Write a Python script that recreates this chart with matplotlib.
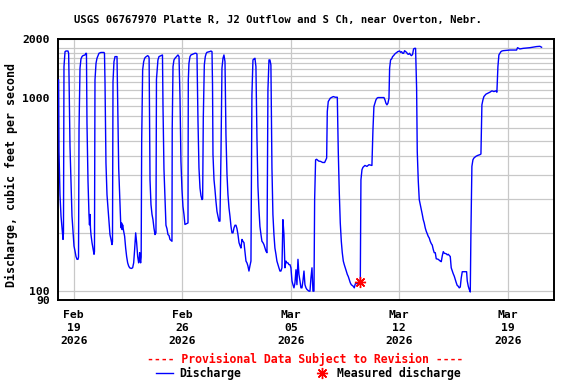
import datetime as dt

import matplotlib
matplotlib.use("Agg")
import matplotlib.pyplot as plt
from matplotlib.lines import Line2D
from matplotlib.ticker import FixedLocator, NullFormatter

TITLE = "USGS 06767970 Platte R, J2 Outflow and S Ch, near Overton, Nebr."
YLABEL = "Discharge, cubic feet per second"
START = dt.datetime(2026, 2, 18)

# hours after START and discharge (cfs)
HOURS = [
    0.5, 1.1, 2.6, 4.2, 5.7, 7.3, 8.0, 8.8, 10.4, 11.9, 15.0, 16.0, 16.6, 18.1, 19.7,
    21.2, 22.8, 24.3, 25.9, 27.4, 29.0, 30.5, 31.3, 32.1, 33.6, 35.1, 36.7, 38.2, 41.3,
    42.9, 43.6, 44.4, 46.0, 47.5, 48.3, 49.1, 49.8, 50.6, 52.2, 53.7, 55.3, 56.0, 56.8,
    58.4, 59.9, 61.5, 63.0, 66.0, 70.8, 71.5, 72.3, 73.8, 75.4, 76.9, 78.5, 80.0, 81.6,
    83.1, 83.9, 84.7, 86.2, 87.8, 90.9, 91.9, 93.5, 95.0, 96.6, 97.4, 98.1, 98.8, 99.6,
    101.2, 102.7, 104.3, 105.8, 107.4, 108.9, 110.5, 113.0, 115.1, 116.7, 118.2, 119.8,
    121.3, 122.9, 124.4, 125.2, 126.0, 126.8, 127.5, 128.3, 129.1, 130.6, 132.2, 133.7,
    135.3, 138.4, 139.9, 140.6, 141.4, 142.0, 143.5, 145.1, 146.6, 148.1, 149.7, 151.2,
    152.0, 154.3, 155.9, 161.3, 162.1, 163.6, 165.2, 166.7, 168.3, 169.8, 171.4, 172.9,
    174.5, 176.0, 176.4, 177.6, 179.1, 180.7, 185.3, 186.9, 188.4, 189.9, 191.5, 193.0,
    194.6, 196.1, 200.8, 201.3, 202.3, 203.9, 205.4, 211.6, 213.2, 214.7, 216.3, 217.8,
    219.4, 220.9, 222.5, 223.5, 224.5, 226.1, 227.6, 229.0, 230.2, 234.9, 236.4, 238.0,
    238.8, 239.5, 241.1, 242.6, 244.1, 245.7, 247.2, 248.8, 250.3, 251.9, 253.4, 255.0,
    256.5, 258.1, 259.6, 261.2, 262.7, 264.3, 265.8, 267.4, 268.9, 270.5, 272.0, 273.6,
    275.1, 276.7, 278.2, 279.8, 281.3, 282.8, 284.4, 285.9, 287.5, 289.0, 290.6, 292.1,
    293.6, 295.2, 296.7, 298.3, 299.8, 301.4, 302.9, 304.5, 306.0, 307.6, 309.1, 310.7,
    312.2, 313.8, 315.3, 316.9, 318.4, 320.0, 321.5, 323.1, 324.6, 326.2, 327.7, 329.2,
    330.8, 332.3, 333.9, 335.4, 337.0, 338.5, 340.1, 341.6, 343.2, 344.7, 346.3, 347.8,
    349.4, 350.9, 352.5, 354.0, 355.6, 357.1, 358.7, 360.2, 361.8, 363.3, 364.9, 366.4,
    368.0, 369.5, 371.1, 372.6, 374.2, 375.7, 377.3, 378.8, 380.4, 381.9, 383.5, 385.0,
    386.6, 388.1, 389.7, 391.2, 392.8, 394.3, 395.9, 396.9, 398.4, 400.0, 403.1, 406.2,
    409.3, 412.4, 415.5, 416.5, 418.0, 419.6, 421.1, 422.7, 425.8, 428.9, 432.0, 433.5,
    435.1, 436.6, 438.2, 439.7, 441.3, 442.8, 444.4, 445.9, 447.5, 449.0, 450.5, 452.1,
    453.6, 456.7, 458.3, 459.8, 466.0, 467.6, 468.6, 470.2, 471.7, 474.8, 477.9, 481.0,
    485.6, 487.2, 488.7, 490.3, 491.8, 493.4, 494.9, 504.2, 505.8, 507.3, 508.9, 510.4,
    512.0, 513.0, 514.5, 516.1, 517.6, 519.2, 520.7, 522.3, 523.8, 525.4, 528.5, 530.0,
    531.6, 533.1, 534.7, 536.2, 537.8, 539.3, 540.8, 542.4, 543.9, 545.5, 547.0, 548.6,
    550.1, 551.7, 553.2, 554.8, 555.8, 557.4, 558.9, 560.5, 562.0, 563.6, 565.1, 566.6,
    568.2, 569.7, 571.3, 572.8, 574.4, 575.9, 577.5, 579.0, 580.6, 582.1, 583.7, 585.2,
    588.3, 591.4, 593.0, 594.5, 596.1, 597.6, 600.7, 602.3, 603.8, 606.9, 608.4, 610.0,
    611.5, 613.1, 614.6, 616.2, 617.7, 619.3, 620.8, 622.4, 623.9, 625.5, 632.2, 633.2,
    634.8, 636.3, 637.9, 638.9, 640.4, 642.0, 643.5, 646.6, 649.7, 652.8, 654.4, 655.9,
    657.5, 659.0, 662.1, 665.2, 668.3, 671.4, 674.5, 677.6, 679.1, 680.7, 682.2, 683.8,
    685.3, 686.9, 689.0, 699.3, 709.6, 711.1, 714.7, 719.9, 730.2, 740.5, 745.7, 748.3,
]
CFS = [
    1233, 527, 315, 244, 212, 185, 200, 1445, 1726, 1740, 1740, 1694, 1283, 559, 369,
    244, 204, 171, 161, 151, 146, 146, 150, 695, 1417, 1583, 1628, 1647, 1660,
    1694, 1690, 738, 369, 249, 220, 249, 212, 196, 178, 167, 155, 160, 1233,
    1503, 1596, 1647, 1694, 1710, 1710, 1690, 1209, 459, 315, 269, 230, 196, 185,
    174, 180, 1209, 1533, 1628, 1628, 992, 433, 315, 225, 212, 225, 208, 220,
    204, 192, 167, 151, 140, 135, 132, 131, 132, 140, 164, 200,
    178, 151, 140, 146, 158, 145, 140, 150, 593, 1389, 1533, 1596,
    1620, 1647, 1630, 1600, 723, 376, 280, 249, 234, 212, 196, 200,
    1245, 1565, 1628, 1660, 899, 427, 297, 219, 210, 196, 194, 185,
    183, 181, 695, 1445, 1565, 1596, 1660, 1628, 1012, 468, 334, 274,
    249, 221, 225, 1233, 1503, 1628, 1660, 1694, 1694, 1680, 752, 433,
    341, 311, 297, 300, 781, 1475, 1628, 1690, 1713, 1730, 1740, 1726,
    1162, 507, 376, 334, 291, 258, 244, 230, 230, 517, 1417, 1596,
    1660, 1533, 642, 400, 315, 269, 244, 216, 200, 200, 212, 219,
    219, 210, 196, 178, 172, 167, 185, 181, 178, 161, 143, 140,
    135, 127, 135, 143, 1033, 1565, 1583, 1596, 1445, 618, 348, 264,
    216, 196, 181, 178, 174, 167, 161, 158, 1096, 1565, 1565, 1474,
    433, 249, 196, 167, 155, 143, 137, 132, 127, 127, 132, 234,
    196, 132, 143, 140, 140, 137, 137, 132, 113, 108, 104, 110,
    129, 108, 146, 122, 113, 104, 104, 113, 127, 108, 104, 102,
    101, 100, 100, 117, 132, 100, 100, 297, 477, 480, 470, 468,
    462, 462, 487, 847, 954, 973, 992, 1000, 1012, 1004, 1004, 527,
    321, 225, 181, 158, 143, 137, 132, 127, 122, 119, 115, 110.5,
    108, 106, 104, 109, 110.5, 112, 376, 424, 436, 446, 441, 450,
    446, 681, 899, 935, 973, 992, 1000, 1000, 973, 935, 917, 935,
    992, 1417, 1565, 1583, 1628, 1647, 1673, 1694, 1706, 1726, 1740, 1713,
    1726, 1694, 1694, 1747, 1726, 1713, 1680, 1673, 1694, 1660, 1647, 1673,
    1783, 1796, 1796, 1118, 527, 369, 297, 280, 264, 249, 234, 225,
    212, 204, 198, 192, 188, 181, 176, 173, 164, 158, 158, 147,
    146, 143, 142, 152, 160, 157, 156, 154, 155, 151, 132, 127,
    123, 119.5, 115, 110.5, 107, 106, 104, 105, 117, 126, 126, 113,
    106, 102, 99, 200, 441, 477, 487, 497, 503, 507, 511, 917,
    973, 1012, 1041, 1053, 1066, 1083, 1074, 1083, 1066, 1445, 1660, 1694,
    1726, 1740, 1747, 1760, 1760, 1810, 1783, 1796, 1810, 1834, 1840, 1820,
]

# field measurement
MEAS_HOURS = [467.1]
MEAS_CFS = [112]

TICK_DATES = [dt.datetime(2026, 2, 19), dt.datetime(2026, 2, 26), dt.datetime(2026, 3, 5),
              dt.datetime(2026, 3, 12), dt.datetime(2026, 3, 19)]
Y_LABELED = [90, 100, 1000, 2000]
Y_GRID = [200, 300, 400, 500, 600, 700, 800, 900,
          1100, 1200, 1300, 1400, 1500, 1600, 1700, 1800]

W, H = 576, 384


def fx(px):
    return px / W


def fy(py):
    return 1 - py / H


if __name__ == '__main__':
    plt.rcParams['font.family'] = 'DejaVu Sans Mono'
    plt.rcParams['font.weight'] = 'bold'

    fig = plt.figure(figsize=(W / 100, H / 100), dpi=100)
    ax = fig.add_axes([fx(58.3), fy(300), fx(554.3) - fx(58.3), fy(39.3) - fy(300)])

    times = [START + dt.timedelta(hours=h) for h in HOURS]
    mtimes = [START + dt.timedelta(hours=h) for h in MEAS_HOURS]

    ax.plot(times, CFS, color='#0000ff', lw=1.0, zorder=3)
    ax.plot(mtimes, MEAS_CFS, ls='none', marker=(8, 2, 0), ms=8, mew=1.0,
            color='red', zorder=4)

    ax.set_yscale('log')
    ax.set_ylim(90, 2000)
    ax.set_xlim(START, START + dt.timedelta(days=32))

    ax.yaxis.set_major_locator(FixedLocator(Y_LABELED))
    ax.yaxis.set_major_formatter(plt.FixedFormatter([str(v) for v in Y_LABELED]))
    ax.yaxis.set_minor_locator(FixedLocator(Y_GRID))
    ax.yaxis.set_minor_formatter(NullFormatter())

    ax.set_xticks(TICK_DATES)
    ax.set_xticklabels([d.strftime('%b\n%d\n%Y') for d in TICK_DATES])

    ax.tick_params(axis='both', which='both', length=0, labelsize=8.2)
    ax.tick_params(axis='y', pad=6)
    ax.tick_params(axis='x', pad=7.5)
    for lab in ax.get_xticklabels():
        lab.set_linespacing(1.35)

    ax.grid(True, which='both', color='#c8c8c8', lw=0.9)
    ax.set_axisbelow(True)
    for sp in ax.spines.values():
        sp.set_linewidth(1.4)
        sp.set_color('black')

    fig.text(fx(278), fy(20), TITLE, ha='center', va='center', fontsize=7.6)
    fig.text(fx(11.5), fy(175), YLABEL, rotation=90, ha='center', va='center',
             fontsize=8.4)
    fig.text(fx(305.6), fy(359), "---- Provisional Data Subject to Revision ----",
             color='red', ha='center', va='center', fontsize=8.3)

    # hand-placed legend row
    ly = fy(373)
    fig.add_artist(Line2D([fx(156), fx(173)], [ly, ly], color='#0000ff', lw=1.0))
    fig.text(fx(179), ly, "Discharge", ha='left', va='center', fontsize=8.3)
    fig.add_artist(Line2D([fx(321.7)], [ly], ls='none', marker=(8, 2, 0), ms=8,
                          mew=1.0, color='red'))
    fig.text(fx(336.7), ly, "Measured discharge", ha='left', va='center', fontsize=8.3)

    fig.savefig('out.png', dpi=100)
